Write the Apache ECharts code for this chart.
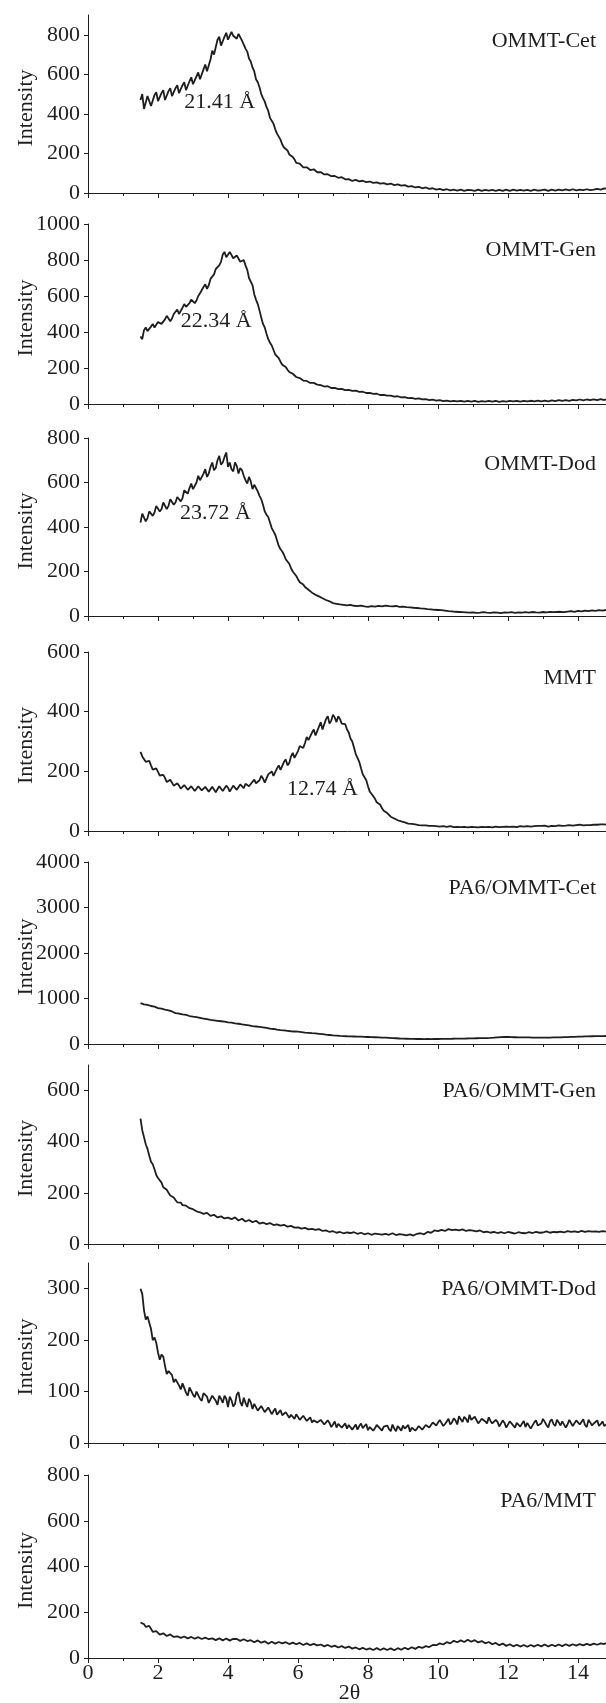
<!DOCTYPE html>
<html><head><meta charset="utf-8">
<script src="https://cdn.jsdelivr.net/npm/echarts@6/dist/echarts.min.js"></script>
<style>html,body{margin:0;padding:0;background:#fff}#c{width:606px;height:1703px}</style>
</head><body><div id="c"></div>
<script>
// ---- DATA ----
// main scan points (2θ, degrees)
const twoTheta = [
1.5,1.6,1.7,1.8,1.9,2.0,2.1,2.2,2.3,2.4,
2.5,2.6,2.7,2.8,2.9,3.0,3.1,3.2,3.3,3.4,
3.5,3.6,3.7,3.8,3.9,4.0,4.1,4.2,4.3,4.4,
4.5,4.6,4.7,4.8,4.9,5.0,5.1,5.2,5.3,5.4,
5.5,5.6,5.7,5.8,5.9,6.0,6.1,6.2,6.3,6.4,
6.5,6.6,6.7,6.8,6.9,7.0,7.1,7.2,7.3,7.4,
7.5,7.6,7.7,7.8,7.9,8.0,8.1,8.2,8.3,8.4,
8.5,8.6,8.7,8.8,8.9,9.0,9.1,9.2,9.3,9.4,
9.5,9.6,9.7,9.8,9.9,10.0,10.1,10.2,10.3,10.4,
10.5,10.6,10.7,10.8,10.9,11.0,11.1,11.2,11.3,11.4,
11.5,11.6,11.7,11.8,11.9,12.0,12.1,12.2,12.3,12.4,
12.5,12.6,12.7,12.8,12.9,13.0,13.1,13.2,13.3,13.4,
13.5,13.6,13.7,13.8,13.9,14.0,14.1,14.2,14.3,14.4,
14.5,14.6,14.7,14.8];
// in-between scan points
const twoThetaMid = [
1.55,1.65,1.75,1.85,1.95,2.05,2.15,2.25,2.35,2.45,
2.55,2.65,2.75,2.85,2.95,3.05,3.15,3.25,3.35,3.45,
3.55,3.65,3.75,3.85,3.95,4.05,4.15,4.25,4.35,4.45,
4.55,4.65,4.75,4.85,4.95,5.05,5.15,5.25,5.35,5.45,
5.55,5.65,5.75,5.85,5.95,6.05,6.15,6.25,6.35,6.45,
6.55,6.65,6.75,6.85,6.95,7.05,7.15,7.25,7.35,7.45,
7.55,7.65,7.75,7.85,7.95,8.05,8.15,8.25,8.35,8.45,
8.55,8.65,8.75,8.85,8.95,9.05,9.15,9.25,9.35,9.45,
9.55,9.65,9.75,9.85,9.95,10.05,10.15,10.25,10.35,10.45,
10.55,10.65,10.75,10.85,10.95,11.05,11.15,11.25,11.35,11.45,
11.55,11.65,11.75,11.85,11.95,12.05,12.15,12.25,12.35,12.45,
12.55,12.65,12.75,12.85,12.95,13.05,13.15,13.25,13.35,13.45,
13.55,13.65,13.75,13.85,13.95,14.05,14.15,14.25,14.35,14.45,
14.55,14.65,14.75];

const ommtCet = [
470,425,490,440,495,465,505,470,515,490,
530,505,545,520,565,550,590,575,625,615,
675,700,775,745,790,775,815,790,805,770,
730,680,635,575,535,480,435,380,350,300,
270,230,215,185,170,145,140,128,124,115,
112,104,100,93,90,84,82,76,74,68,
65,62,63,58,60,55,56,52,50,49,
47,45,44,41,40,38,35,33,30,29,
27,25,24,22,20,19,17,18,15,16,
14,16,13,15,12,14,13,16,12,14,
13,15,12,14,13,15,12,16,13,14,
15,12,14,13,16,12,15,13,14,16,
14,17,15,16,14,18,16,17,15,19,
18,20,19,22];
const ommtCetMid = [
500,420,500,430,510,455,520,465,530,485,
545,500,560,515,585,545,610,580,650,610,
720,690,790,740,810,770,795,780,810,760,
715,665,615,560,500,462,415,370,322,290,
245,230,195,182,152,148,130,130,116,120,
105,106,94,95,85,86,77,80,69,70,
61,66,59,62,55,58,51,54,47,50,
44,48,40,44,37,40,32,35,28,31,
24,28,21,24,17,21,15,19,13,17,
12,17,11,16,15,11,17,11,16,12,
16,11,16,11,17,11,17,12,16,12,
16,11,17,12,14,17,11,17,12,17,
13,18,13,19,13,17,14,19,14,17,
21,17,23];

const ommtGen = [
375,410,405,430,425,455,445,470,480,475,
510,500,535,540,560,585,575,615,650,640,
695,720,760,790,845,820,835,805,815,785,
770,700,660,580,520,445,390,340,300,265,
235,210,190,172,160,145,138,128,122,117,
112,106,100,96,92,88,86,82,80,77,
76,72,70,66,64,61,58,56,53,50,
48,46,43,42,39,37,35,33,31,30,
28,26,24,23,21,20,19,17,18,16,
15,17,14,16,15,14,16,13,15,14,
16,14,15,13,16,14,15,17,14,16,
15,17,16,18,15,18,17,16,19,18,
20,18,21,19,22,24,21,23,20,24,
22,25,23,26];
const ommtGenMid = [
360,425,395,445,420,465,440,490,460,500,
525,505,555,530,580,560,600,625,665,660,
700,750,770,830,815,845,810,825,790,800,
745,690,610,555,480,425,360,325,275,255,
218,205,178,168,150,144,130,128,117,117,
108,105,97,99,89,90,83,84,77,79,
73,74,67,68,61,62,56,57,50,51,
46,47,41,43,37,38,33,34,29,31,
26,27,22,24,19,21,16,19,15,17,
14,18,13,17,13,17,12,16,13,17,
13,17,12,16,13,17,14,18,13,17,
14,18,15,19,14,19,15,20,16,21,
17,22,18,23,20,25,20,25,21,26,
21,27,22];

const ommtDod = [
420,455,440,475,465,500,480,505,495,520,
510,540,530,560,575,570,600,610,640,625,
670,655,700,680,715,670,660,690,640,655,
610,625,570,585,540,500,455,420,380,340,
300,275,245,215,190,165,148,130,118,105,
95,88,80,72,66,58,55,52,50,48,
50,46,44,47,43,41,44,42,46,43,
47,44,43,45,41,42,40,39,37,36,
34,33,31,30,28,27,26,24,22,21,
19,18,17,16,15,16,14,15,17,15,
14,16,15,13,16,15,17,14,16,15,
17,15,18,16,15,18,16,19,17,18,
19,17,20,22,19,23,21,24,22,25,
23,26,24,27];
const ommtDodMid = [
460,425,470,450,495,470,510,480,525,500,
535,515,565,550,595,575,630,615,660,640,
690,665,720,690,735,690,650,675,665,630,
595,605,590,560,525,470,445,395,365,315,
290,255,235,200,180,152,142,122,114,98,
93,83,78,68,63,57,53,50,52,46,
45,48,42,45,46,40,45,40,44,49,
43,42,47,42,43,39,41,36,38,34,
35,30,32,27,29,25,27,22,23,19,
20,16,18,14,16,13,16,17,14,16,
13,16,13,16,14,17,13,18,14,17,
14,19,15,18,17,15,20,16,19,16,
21,16,22,19,24,20,25,20,26,22,
27,23,28];

const mmt = [
265,245,238,220,212,198,185,178,165,168,
155,152,145,150,140,145,138,148,135,142,
138,146,134,148,140,145,136,150,142,152,
158,150,165,160,170,176,168,195,185,210,
205,232,220,250,245,268,280,295,305,330,
320,350,340,375,360,390,365,375,355,340,
310,280,245,210,180,150,125,108,92,76,
64,54,45,38,34,30,27,25,23,21,
20,18,19,17,16,17,15,16,14,15,
13,15,12,14,13,12,14,13,15,12,
14,13,15,12,14,16,13,15,14,17,
15,14,17,15,18,16,17,15,18,17,
19,16,18,21,17,20,22,18,21,19,
22,20,23,21];
const mmtMid = [
250,232,235,206,210,186,188,164,172,152,
160,142,154,138,150,134,150,136,148,132,
148,130,150,134,152,132,152,138,156,144,
162,150,172,158,185,162,190,200,190,220,
210,240,228,262,250,285,278,315,305,340,
325,365,345,385,370,380,385,360,358,330,
300,258,232,190,170,132,120,96,88,68,
60,48,42,36,32,29,25,24,22,20,
19,19,17,17,16,15,16,14,16,13,
14,13,14,12,14,13,12,14,13,14,
12,15,13,14,15,14,15,13,16,15,
16,15,16,17,17,18,15,17,16,19,
17,18,20,18,20,21,19,20,20,21,
21,22,22];

const pa6OmmtCet = [
900,870,860,835,820,790,775,755,740,715,
680,670,650,640,615,600,590,575,560,545,
530,520,510,500,490,475,470,455,445,430,
420,410,395,385,375,365,355,340,330,315,
305,300,290,280,275,270,262,252,245,238,
232,224,215,205,198,190,184,178,174,170,
168,165,162,160,157,154,150,148,145,142,
139,136,130,126,121,117,115,112,111,110,
110,108,110,109,111,110,112,111,114,115,
117,118,120,121,123,124,126,128,129,131,
133,138,144,150,155,154,150,148,146,147,
146,144,142,140,141,139,140,142,144,145,
146,149,152,155,158,161,164,166,168,170,
171,173,174,176];
const pa6OmmtCetMid = [
875,880,840,835,795,790,760,755,720,705,
668,670,635,636,600,605,575,575,545,545,
520,522,500,502,478,480,455,458,432,433,
408,410,385,388,365,368,342,345,318,318,
298,302,282,288,268,272,255,256,238,242,
225,226,208,210,192,194,178,182,169,175,
164,168,158,163,152,157,146,151,140,145,
135,138,125,130,116,122,110,116,108,114,
106,113,106,114,107,115,108,117,111,119,
115,123,117,126,120,129,123,132,127,135,
132,145,146,157,152,156,146,152,143,150,
142,147,138,143,137,143,138,147,141,149,
144,154,149,160,155,166,160,170,164,174,
169,177,172];

const pa6OmmtGen = [
490,418,372,322,292,258,240,215,200,186,
172,165,152,150,140,136,128,124,118,122,
110,114,104,108,100,103,97,104,92,99,
88,94,85,91,80,84,78,82,74,77,
72,75,68,71,64,65,60,63,57,59,
55,58,51,53,47,50,44,47,42,45,
43,46,40,44,38,42,36,41,39,37,
40,36,42,35,39,37,34,38,33,40,
42,38,47,44,53,50,55,51,58,54,
56,53,57,51,54,52,49,53,46,48,
44,47,43,46,42,47,44,41,46,43,
42,46,43,47,44,45,49,44,47,46,
48,45,50,47,49,46,51,47,50,48,
49,47,50,48];
const pa6OmmtGenMid = [
445,390,345,312,270,252,222,212,190,182,
163,162,146,148,134,137,122,126,114,118,
106,113,101,106,98,104,95,100,91,96,
86,93,83,89,79,86,76,81,72,78,
69,74,66,70,62,66,58,63,55,60,
52,57,49,53,46,49,43,47,41,46,
40,46,38,43,37,43,35,41,34,40,
35,41,36,42,34,41,33,40,32,41,
37,43,42,50,47,55,49,57,52,58,
51,58,52,57,49,56,47,54,44,51,
41,48,40,47,41,48,40,47,41,47,
40,48,41,49,42,50,43,49,44,50,
44,51,45,52,44,52,46,53,45,52,
45,52,46];

const pa6OmmtDod = [
300,258,246,222,205,176,172,150,140,132,
124,112,116,98,108,94,100,86,97,90,
80,95,74,86,92,70,83,76,99,72,
78,86,66,74,60,70,58,67,62,55,
64,52,58,55,47,54,44,52,46,40,
46,38,43,34,39,36,30,40,33,28,
36,31,26,38,30,25,33,29,37,24,
31,27,36,23,30,34,25,22,33,28,
35,29,38,33,41,35,44,37,47,40,
44,52,41,47,55,43,49,40,46,38,
43,36,41,34,39,33,38,30,40,34,
31,36,29,44,33,47,35,42,37,45,
34,41,36,46,32,43,38,35,45,34,
40,33,42,36];
const pa6OmmtDodMid = [
290,240,245,200,195,162,168,134,142,118,
126,104,114,92,106,89,98,82,100,78,
92,82,92,78,86,90,71,94,80,88,
70,79,76,63,72,60,69,56,67,58,
54,60,49,52,56,45,53,43,50,44,
40,45,36,44,31,42,37,30,38,35,
26,36,33,29,37,31,24,35,28,32,
34,23,28,33,24,28,35,30,24,33,
26,35,30,40,34,45,33,42,36,48,
36,46,51,40,45,51,38,47,42,50,
38,45,32,44,30,42,35,39,32,43,
39,28,40,34,38,41,30,46,33,40,
42,30,45,33,44,36,46,31,40,38,
44,37,33];

const pa6Mmt = [
155,148,138,128,112,110,100,104,95,99,
90,96,88,93,85,91,84,90,82,88,
80,87,79,85,78,84,80,77,82,75,
80,72,76,70,73,66,71,64,70,65,
69,63,68,62,66,60,65,58,62,57,
60,55,58,52,55,50,53,47,50,45,
47,42,45,39,43,36,41,37,42,36,
40,36,41,35,42,38,43,40,46,42,
48,46,53,50,58,62,60,67,65,72,
70,76,71,78,73,75,70,72,66,68,
62,65,58,61,55,59,53,57,52,55,
51,56,52,55,53,57,52,56,54,57,
53,58,55,57,56,59,57,60,58,62,
60,63,62,66];
const pa6MmtMid = [
160,136,140,114,118,102,108,96,103,92,
95,88,94,86,92,84,91,83,89,82,
86,78,86,77,85,76,84,83,75,82,
74,78,69,77,67,73,62,71,63,70,
64,69,61,67,60,66,57,64,56,62,
55,59,51,57,49,54,46,52,44,50,
41,46,38,44,37,42,35,43,35,42,
35,42,34,43,36,45,38,47,40,49,
44,52,48,57,56,64,59,69,64,75,
69,77,70,80,71,78,68,74,64,70,
60,66,56,63,53,60,51,58,50,57,
49,57,50,58,51,59,50,58,52,59,
52,60,53,60,54,61,55,62,56,63,
58,64,61];

const sampleNames = ['OMMT-Cet','OMMT-Gen','OMMT-Dod','MMT','PA6/OMMT-Cet','PA6/OMMT-Gen','PA6/OMMT-Dod','PA6/MMT'];
const seriesValues = [ommtCet, ommtGen, ommtDod, mmt, pa6OmmtCet, pa6OmmtGen, pa6OmmtDod, pa6Mmt];
const seriesMidValues = [ommtCetMid, ommtGenMid, ommtDodMid, mmtMid, pa6OmmtCetMid, pa6OmmtGenMid, pa6OmmtDodMid, pa6MmtMid];
const yAxisMax = [900, 1000, 800, 600, 4000, 700, 350, 800];
const yTickLabels = [
  [0,200,400,600,800],
  [0,200,400,600,800,1000],
  [0,200,400,600,800],
  [0,200,400,600],
  [0,1000,2000,3000,4000],
  [0,200,400,600],
  [0,100,200,300],
  [0,200,400,600,800]
];
const xTickLabels = [0,2,4,6,8,10,12,14];
const peakLabels = ['21.41 Å','22.34 Å','23.72 Å','12.74 Å'];

// ---- LAYOUT / STYLE ----
const FONT = '"Liberation Serif","DejaVu Serif","Times New Roman",serif';
const FS = 22;
const INK = '#1e1e1e';
const panelTop = [15, 224, 438, 652, 862, 1065, 1263, 1475];
const panelHeight = [178, 180, 178, 179, 182, 179, 180, 183];
const peakPos = [[3.76, 457], [3.66, 458], [3.64, 460], [6.70, 140]];

function buildPoints(main, mid) {
  const pts = [];
  for (let j = 0; j < twoTheta.length; j++) {
    pts.push([twoTheta[j], main[j]]);
    if (j < twoThetaMid.length) pts.push([twoThetaMid[j], mid[j]]);
  }
  return pts;
}

const grids = [], xAxes = [], yAxes = [], series = [], graphics = [];
for (let i = 0; i < 8; i++) {
  grids.push({left: 88, top: panelTop[i], width: 560, height: panelHeight[i],
    containLabel: false, outerBoundsMode: 'none'});
  const last = i === 7;
  xAxes.push({
    gridIndex: i, type: 'value', min: 0, max: 16, interval: 2,
    axisLine: {onZero: false, lineStyle: {color: INK, width: 1}},
    axisTick: {show: true, inside: false, length: 5, lineStyle: {color: INK, width: 1}},
    minorTick: {show: true, splitNumber: 2, length: 3, lineStyle: {color: INK, width: 1}},
    splitLine: {show: false}, minorSplitLine: {show: false},
    axisLabel: {show: last, margin: 4, fontFamily: FONT, fontSize: FS, color: INK,
      customValues: xTickLabels, formatter: v => String(v)},
    name: last ? '2θ' : '', nameLocation: 'middle', nameGap: 24, nameMoveOverlap: false,
    nameTextStyle: {fontFamily: FONT, fontSize: FS, color: INK, padding: [0, 37, 0, 0]}
  });
  yAxes.push({
    gridIndex: i, type: 'value', min: 0, max: yAxisMax[i],
    axisLine: {show: true, lineStyle: {color: INK, width: 1}},
    axisTick: {show: true, inside: false, length: 4, lineStyle: {color: INK, width: 1}, customValues: yTickLabels[i]},
    axisLabel: {margin: 8, fontFamily: FONT, fontSize: FS, color: INK,
      customValues: yTickLabels[i], formatter: v => String(v)},
    splitLine: {show: false},
    name: 'Intensity', nameLocation: 'middle', nameGap: 51, nameMoveOverlap: false,
    nameTextStyle: {fontFamily: FONT, fontSize: FS, color: INK, padding: [0, 8, 0, 0]}
  });
  series.push({
    type: 'line', xAxisIndex: i, yAxisIndex: i, showSymbol: false, symbol: 'none',
    data: buildPoints(seriesValues[i], seriesMidValues[i]),
    lineStyle: {color: INK, width: 1.8}, animation: false, silent: true
  });
  if (i < 4) {
    series.push({
      type: 'scatter', xAxisIndex: i, yAxisIndex: i, symbolSize: 0, silent: true,
      itemStyle: {opacity: 1, color: INK},
      data: [peakPos[i]],
      label: {show: true, position: 'inside', formatter: peakLabels[i],
        fontFamily: FONT, fontSize: FS, color: INK, textBorderWidth: 0, opacity: 1}
    });
  }
  graphics.push({
    type: 'text', x: 596, y: panelTop[i] + 26,
    style: {text: sampleNames[i], align: 'right', verticalAlign: 'middle',
      font: FS + 'px ' + FONT, fill: INK}
  });
}

const chart = echarts.init(document.getElementById('c'), null, {renderer: 'canvas'});
chart.setOption({
  animation: false,
  backgroundColor: '#fff',
  grid: grids, xAxis: xAxes, yAxis: yAxes, series: series, graphic: graphics
});
</script></body></html>
